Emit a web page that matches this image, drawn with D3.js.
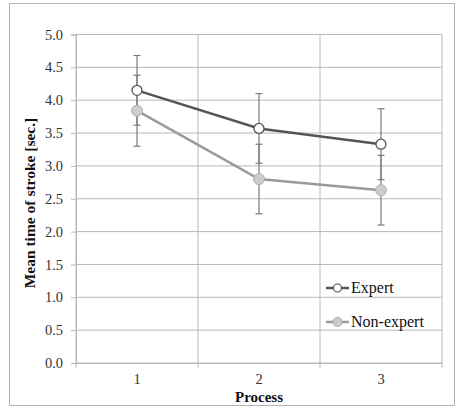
<!DOCTYPE html>
<html>
<head>
<meta charset="utf-8">
<script src="https://d3js.org/d3.v7.min.js"></script>
<style>
  body { margin: 0; background: #fff; }
  svg text { font-family: "Liberation Serif", "Times New Roman", serif; }
</style>
</head>
<body>
<div id="chart"></div>
<script>
// data
var processes = ["1", "2", "3"];
var expertMean = [4.15, 3.57, 3.33];
var expertErr = [0.53, 0.53, 0.54];
var nonExpertMean = [3.84, 2.80, 2.63];
var nonExpertErr = [0.54, 0.53, 0.53];
var yTicks = [0, 0.5, 1, 1.5, 2, 2.5, 3, 3.5, 4, 4.5, 5];

var margin = {top: 34.5, right: 15, bottom: 45, left: 76},
    width = 457 - margin.left - margin.right,
    height = 408 - margin.top - margin.bottom;

var svg = d3.select("#chart")
    .append("svg")
    .attr("width", 457)
    .attr("height", 408);

// outer frame
svg.append("rect")
    .attr("x", 9.5).attr("y", 3.5)
    .attr("width", 445).attr("height", 402)
    .attr("fill", "none")
    .attr("stroke", "#b4b4b4")
    .attr("stroke-width", 1);

var g = svg.append("g")
    .attr("transform", "translate(" + margin.left + "," + margin.top + ")");

var x = d3.scaleBand()
    .domain(processes)
    .range([0, width])
    .padding(0);

var y = d3.scaleLinear()
    .domain([0, 5])
    .range([height, 0]);

var gridColor = "#b8b8b8";

// horizontal grid
g.selectAll(".hgrid")
    .data(yTicks)
    .enter().append("line")
    .attr("class", "hgrid")
    .attr("x1", 0).attr("x2", width)
    .attr("y1", function(d) { return y(d); })
    .attr("y2", function(d) { return y(d); })
    .attr("stroke", gridColor);

// vertical grid at category boundaries
var bounds = processes.map(function(p) { return x(p); }).concat([width]);
g.selectAll(".vgrid")
    .data(bounds)
    .enter().append("line")
    .attr("class", "vgrid")
    .attr("x1", function(d) { return d; })
    .attr("x2", function(d) { return d; })
    .attr("y1", 0).attr("y2", height + 5)
    .attr("stroke", gridColor);

// y axis
var yAxis = g.append("g")
    .call(d3.axisLeft(y).tickValues(yTicks).tickFormat(d3.format(".1f")).tickSize(5))
    .attr("font-family", null)
    .attr("font-size", null);
yAxis.select(".domain").attr("stroke", gridColor);
yAxis.selectAll(".tick line").attr("stroke", gridColor);
yAxis.selectAll("text")
    .attr("font-size", "14.5px")
    .attr("fill", "#333")
    .attr("x", -13);

// x axis labels
var xAxis = g.append("g")
    .attr("transform", "translate(0," + height + ")")
    .call(d3.axisBottom(x).tickSize(0))
    .attr("font-family", null)
    .attr("font-size", null);
xAxis.select(".domain").attr("stroke", gridColor);
xAxis.selectAll("text")
    .attr("font-size", "14.5px")
    .attr("fill", "#333")
    .attr("y", 11);

// axis titles
svg.append("text")
    .attr("x", margin.left + width / 2)
    .attr("y", 402)
    .attr("text-anchor", "middle")
    .attr("font-size", "15px")
    .attr("font-weight", "bold")
    .attr("fill", "#111")
    .text("Process");

svg.append("text")
    .attr("transform", "translate(35,203) rotate(-90)")
    .attr("text-anchor", "middle")
    .attr("font-size", "15.5px")
    .attr("font-weight", "bold")
    .attr("fill", "#111")
    .text("Mean time of stroke [sec.]");

var cx = function(i) { return x(processes[i]) + x.bandwidth() / 2; };

// error bars
function drawErrors(means, errs) {
  var eb = g.append("g");
  means.forEach(function(m, i) {
    var xc = cx(i);
    eb.append("line")
      .attr("x1", xc).attr("x2", xc)
      .attr("y1", y(m + errs[i])).attr("y2", y(m - errs[i]))
      .attr("stroke", "#7a7a7a").attr("stroke-width", 1.2);
    [m + errs[i], m - errs[i]].forEach(function(v) {
      eb.append("line")
        .attr("x1", xc - 3.5).attr("x2", xc + 3.5)
        .attr("y1", y(v)).attr("y2", y(v))
        .attr("stroke", "#7a7a7a").attr("stroke-width", 1.2);
    });
  });
}
drawErrors(nonExpertMean, nonExpertErr);
drawErrors(expertMean, expertErr);

var line = d3.line()
    .x(function(d, i) { return cx(i); })
    .y(function(d) { return y(d); });

// non-expert series
g.append("path")
    .datum(nonExpertMean)
    .attr("d", line)
    .attr("fill", "none")
    .attr("stroke", "#9a9a9a")
    .attr("stroke-width", 2.5);
g.selectAll(".ne")
    .data(nonExpertMean)
    .enter().append("circle")
    .attr("cx", function(d, i) { return cx(i); })
    .attr("cy", function(d) { return y(d); })
    .attr("r", 5.5)
    .attr("fill", "#cccccc")
    .attr("stroke", "#b0b0b0")
    .attr("stroke-width", 1);

// expert series
g.append("path")
    .datum(expertMean)
    .attr("d", line)
    .attr("fill", "none")
    .attr("stroke", "#555555")
    .attr("stroke-width", 2.5);
g.selectAll(".ex")
    .data(expertMean)
    .enter().append("circle")
    .attr("cx", function(d, i) { return cx(i); })
    .attr("cy", function(d) { return y(d); })
    .attr("r", 5)
    .attr("fill", "#fff")
    .attr("stroke", "#555555")
    .attr("stroke-width", 1.3);

// legend
var legend = svg.append("g");
var legendItems = [
  {name: "Expert", y: 288, stroke: "#555555", fill: "#fff", mstroke: "#555555", r: 4},
  {name: "Non-expert", y: 322, stroke: "#9a9a9a", fill: "#cccccc", mstroke: "#b0b0b0", r: 4.5}
];
legendItems.forEach(function(d) {
  legend.append("line")
    .attr("x1", 326).attr("x2", 349)
    .attr("y1", d.y).attr("y2", d.y)
    .attr("stroke", d.stroke).attr("stroke-width", 2.5);
  legend.append("circle")
    .attr("cx", 337.5).attr("cy", d.y).attr("r", d.r)
    .attr("fill", d.fill).attr("stroke", d.mstroke).attr("stroke-width", 1.2);
  legend.append("text")
    .attr("x", 351).attr("y", d.y + 5)
    .attr("font-size", "16px")
    .attr("fill", "#111")
    .text(d.name);
});
</script>
</body>
</html>
